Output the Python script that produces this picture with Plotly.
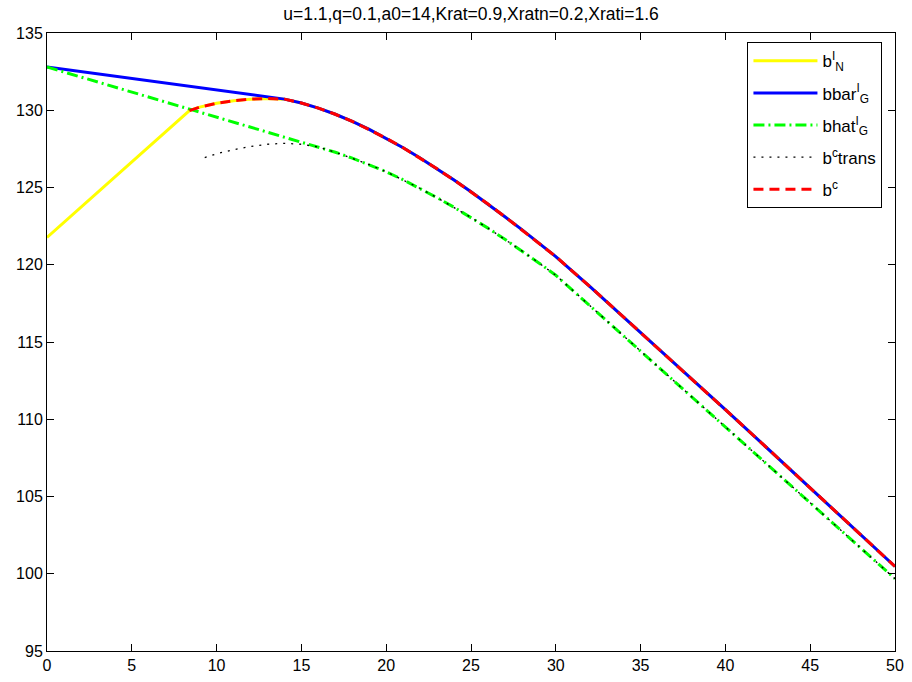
import plotly.graph_objects as go

# --- series data -------------------------------------------------------
x_bN = [0, 8.4, 9, 10, 11, 12, 13, 14, 15, 16, 17, 18, 19, 20, 21, 22, 23, 24,
        25, 26, 27, 28, 29, 30, 32, 34, 36, 38, 40, 42, 44, 46, 48, 50]
bN = [121.77, 129.98, 130.2, 130.45, 130.62, 130.72, 130.76, 130.72, 130.47,
      130.14, 129.74, 129.28, 128.76, 128.19, 127.57, 126.91, 126.21, 125.48,
      124.72, 123.93, 123.11, 122.27, 121.41, 120.53, 118.6, 116.62, 114.63,
      112.63, 110.62, 108.6, 106.58, 104.55, 102.51, 100.47]

x_bbar = [0, 5, 10, 12, 13, 14, 15, 16, 17, 18, 19, 20, 21, 22, 23, 24, 25,
          26, 27, 28, 29, 30, 32, 34, 36, 38, 40, 42, 44, 46, 48, 50]
bbar = [132.8, 132.07, 131.34, 131.05, 130.9, 130.72, 130.47, 130.14, 129.74,
        129.28, 128.76, 128.19, 127.57, 126.91, 126.21, 125.48, 124.72, 123.93,
        123.11, 122.27, 121.41, 120.53, 118.6, 116.62, 114.63, 112.63, 110.62,
        108.6, 106.58, 104.55, 102.51, 100.47]

x_bhat = [0, 5, 10, 14, 15, 16, 17, 18, 19, 20, 21, 22, 23, 24, 25, 26, 27,
          28, 29, 30, 32, 34, 36, 38, 40, 42, 44, 46, 48, 50]
bhat = [132.8, 131.19, 129.57, 128.28, 127.96, 127.63, 127.28, 126.9, 126.48,
        126.02, 125.5, 124.94, 124.34, 123.72, 123.06, 122.37, 121.65, 120.9,
        120.12, 119.32, 117.36, 115.4, 113.43, 111.47, 109.5, 107.54, 105.58,
        103.61, 101.65, 99.68]

x_trans = [9.3, 10, 11, 12, 13, 14, 15, 16, 17, 18, 19, 20, 21, 22, 23, 24,
           25, 26, 27, 28, 29, 30, 32, 34, 36, 38, 40, 42, 44, 46, 48, 50]
btrans = [126.94, 127.18, 127.45, 127.65, 127.8, 127.86, 127.8, 127.62,
          127.28, 126.9, 126.48, 126.02, 125.5, 124.94, 124.34, 123.72,
          123.06, 122.37, 121.65, 120.9, 120.12, 119.32, 117.36, 115.4,
          113.43, 111.47, 109.5, 107.54, 105.58, 103.61, 101.65, 99.68]

x_bc = [8.4, 9, 10, 11, 12, 13, 14, 15, 16, 17, 18, 19, 20, 21, 22, 23, 24,
        25, 26, 27, 28, 29, 30, 32, 34, 36, 38, 40, 42, 44, 46, 48, 50]
bc = [129.98, 130.2, 130.45, 130.62, 130.72, 130.76, 130.72, 130.47, 130.14,
      129.74, 129.28, 128.76, 128.19, 127.57, 126.91, 126.21, 125.48, 124.72,
      123.93, 123.11, 122.27, 121.41, 120.53, 118.6, 116.62, 114.63, 112.63,
      110.62, 108.6, 106.58, 104.55, 102.51, 100.47]

x_ticks = [0, 5, 10, 15, 20, 25, 30, 35, 40, 45, 50]
y_ticks = [95, 100, 105, 110, 115, 120, 125, 130, 135]

title_text = "u=1.1,q=0.1,a0=14,Krat=0.9,Xratn=0.2,Xrati=1.6"

FONT = "Liberation Sans, Arial, sans-serif"

fig = go.Figure()
fig.add_trace(go.Scatter(x=x_bN, y=bN, mode="lines", legendgroup="g1",
                         name="b<sup>I</sup><sub>N</sub>",
                         line=dict(color="#FFFF00", width=3)))
fig.add_trace(go.Scatter(x=x_bbar, y=bbar, mode="lines", legendgroup="g2",
                         name="bbar<sup>I</sup><sub>G</sub>",
                         line=dict(color="#0000FF", width=3)))
fig.add_trace(go.Scatter(x=x_bhat, y=bhat, mode="lines", legendgroup="g3",
                         name="bhat<sup>I</sup><sub>G</sub>",
                         line=dict(color="#00FF00", width=3,
                                   dash="11px,4px,2px,4px")))
fig.add_trace(go.Scatter(x=x_trans, y=btrans, mode="lines", legendgroup="g4",
                         name="b<sup>c</sup>trans",
                         line=dict(color="#000000", width=1.3,
                                   dash="2px,6px")))
fig.add_trace(go.Scatter(x=x_bc, y=bc, mode="lines", legendgroup="g5",
                         name="b<sup>c</sup>",
                         line=dict(color="#FF0000", width=3,
                                   dash="10px,6px")))

axis_common = dict(
    showgrid=False, zeroline=False, showline=True, linecolor="black",
    linewidth=1, mirror="allticks", ticks="inside", ticklen=7,
    tickcolor="black", tickwidth=1,
    tickfont=dict(family=FONT, size=16, color="black"),
)

fig.update_xaxes(range=[0, 50], tickvals=x_ticks, **axis_common)
fig.update_yaxes(range=[95, 135], tickvals=y_ticks, **axis_common)

fig.update_layout(
    width=912, height=682,
    margin=dict(l=47, r=8, t=33, b=27),
    paper_bgcolor="white", plot_bgcolor="white",
    title=dict(text=title_text, x=0.5, xref="paper", xanchor="center",
               y=1 - 13.5 / 682, yref="container", yanchor="middle",
               font=dict(family=FONT, size=17.5, color="black")),
    legend=dict(x=0.826, y=0.985, xanchor="left", yanchor="top",
                bgcolor="white", bordercolor="black", borderwidth=1,
                tracegroupgap=7, itemwidth=64,
                font=dict(family=FONT, size=17, color="black")),
    showlegend=True,
)

fig.write_html("out.html")
